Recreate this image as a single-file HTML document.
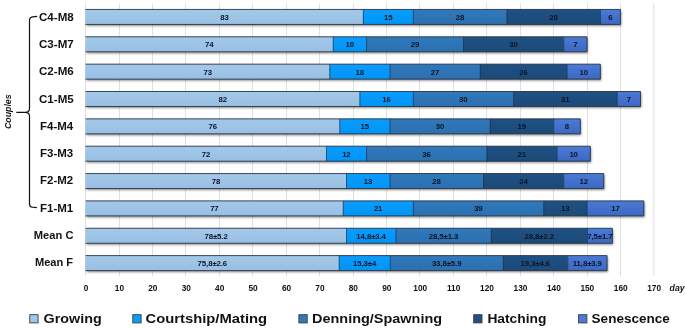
<!DOCTYPE html>
<html><head><meta charset="utf-8"><title>chart</title>
<style>
html,body{margin:0;padding:0;background:#fff;}
svg text{font-family:"Liberation Sans",sans-serif;font-weight:bold;fill:#111;}
.dl{font-size:7.8px;letter-spacing:-0.1px;text-anchor:middle;fill:#0c1424;}
.cat{font-size:11.2px;text-anchor:end;}
.ax{font-size:8.3px;text-anchor:middle;}
.day{font-size:8.7px;font-style:italic;}
.cp{font-size:9.4px;font-style:italic;text-anchor:middle;}
.lg{font-size:13.6px;}
</style></head><body>
<svg width="685" height="328" viewBox="0 0 685 328" style="display:block;will-change:transform;opacity:0.999">
<defs>
<linearGradient id="g0" x1="0" y1="0" x2="0" y2="1"><stop offset="0" stop-color="#a3c8ea"/><stop offset="1" stop-color="#98bfe3"/></linearGradient>
<linearGradient id="g1" x1="0" y1="0" x2="0" y2="1"><stop offset="0" stop-color="#0a9dff"/><stop offset="1" stop-color="#0094f5"/></linearGradient>
<linearGradient id="g2" x1="0" y1="0" x2="0" y2="1"><stop offset="0" stop-color="#3179bb"/><stop offset="1" stop-color="#2b70b0"/></linearGradient>
<linearGradient id="g3" x1="0" y1="0" x2="0" y2="1"><stop offset="0" stop-color="#1f5184"/><stop offset="1" stop-color="#1c4a78"/></linearGradient>
<linearGradient id="g4" x1="0" y1="0" x2="0" y2="1"><stop offset="0" stop-color="#4a7bd6"/><stop offset="1" stop-color="#3b68c2"/></linearGradient>
<filter id="sh" x="-5%" y="-30%" width="110%" height="180%"><feGaussianBlur stdDeviation="0.9"/></filter>
</defs>
<rect width="685" height="328" fill="#fff"/>
<line x1="85.50" y1="3.2" x2="85.50" y2="276" stroke="#e0e0e0" stroke-width="1"/>
<line x1="119.50" y1="3.2" x2="119.50" y2="276" stroke="#e0e0e0" stroke-width="1"/>
<line x1="152.50" y1="3.2" x2="152.50" y2="276" stroke="#e0e0e0" stroke-width="1"/>
<line x1="185.50" y1="3.2" x2="185.50" y2="276" stroke="#e0e0e0" stroke-width="1"/>
<line x1="219.50" y1="3.2" x2="219.50" y2="276" stroke="#e0e0e0" stroke-width="1"/>
<line x1="252.50" y1="3.2" x2="252.50" y2="276" stroke="#e0e0e0" stroke-width="1"/>
<line x1="286.50" y1="3.2" x2="286.50" y2="276" stroke="#e0e0e0" stroke-width="1"/>
<line x1="319.50" y1="3.2" x2="319.50" y2="276" stroke="#e0e0e0" stroke-width="1"/>
<line x1="353.50" y1="3.2" x2="353.50" y2="276" stroke="#e0e0e0" stroke-width="1"/>
<line x1="386.50" y1="3.2" x2="386.50" y2="276" stroke="#e0e0e0" stroke-width="1"/>
<line x1="419.50" y1="3.2" x2="419.50" y2="276" stroke="#e0e0e0" stroke-width="1"/>
<line x1="453.50" y1="3.2" x2="453.50" y2="276" stroke="#e0e0e0" stroke-width="1"/>
<line x1="486.50" y1="3.2" x2="486.50" y2="276" stroke="#e0e0e0" stroke-width="1"/>
<line x1="520.50" y1="3.2" x2="520.50" y2="276" stroke="#e0e0e0" stroke-width="1"/>
<line x1="553.50" y1="3.2" x2="553.50" y2="276" stroke="#e0e0e0" stroke-width="1"/>
<line x1="587.50" y1="3.2" x2="587.50" y2="276" stroke="#e0e0e0" stroke-width="1"/>
<line x1="620.50" y1="3.2" x2="620.50" y2="276" stroke="#e0e0e0" stroke-width="1"/>
<line x1="653.80" y1="3.2" x2="653.80" y2="276" stroke="#f0f0f0" stroke-width="2.4"/>
<rect x="86.60" y="10.95" width="534.72" height="15.00" fill="#1a1410" opacity="0.5" filter="url(#sh)"/>
<rect x="85.70" y="9.45" width="277.39" height="15.00" fill="url(#g0)"/>
<rect x="363.09" y="9.45" width="50.13" height="15.00" fill="url(#g1)"/>
<rect x="413.22" y="9.45" width="93.58" height="15.00" fill="url(#g2)"/>
<rect x="506.79" y="9.45" width="93.58" height="15.00" fill="url(#g3)"/>
<rect x="600.37" y="9.45" width="20.05" height="15.00" fill="url(#g4)"/>
<path d="M85.50 9.45 H620.42 V24.45 H85.50" fill="none" stroke="#26344a" stroke-width="0.9"/>
<path d="M363.24 9.45 V24.45 M413.37 9.45 V24.45 M506.94 9.45 V24.45 M600.52 9.45 V24.45" fill="none" stroke="#14233a" stroke-width="0.6"/>
<text x="224.39" y="19.85" class="dl">83</text>
<text x="388.15" y="19.85" class="dl">15</text>
<text x="460.00" y="19.85" class="dl">28</text>
<text x="553.58" y="19.85" class="dl">28</text>
<text x="610.39" y="19.85" class="dl">6</text>
<text x="73.7" y="20.70" class="cat" textLength="34.7" lengthAdjust="spacingAndGlyphs">C4-M8</text>
<rect x="86.60" y="38.30" width="501.30" height="15.00" fill="#1a1410" opacity="0.5" filter="url(#sh)"/>
<rect x="85.70" y="36.80" width="247.31" height="15.00" fill="url(#g0)"/>
<rect x="333.01" y="36.80" width="33.42" height="15.00" fill="url(#g1)"/>
<rect x="366.43" y="36.80" width="96.92" height="15.00" fill="url(#g2)"/>
<rect x="463.35" y="36.80" width="100.26" height="15.00" fill="url(#g3)"/>
<rect x="563.61" y="36.80" width="23.39" height="15.00" fill="url(#g4)"/>
<path d="M85.50 36.80 H587.00 V51.80 H85.50" fill="none" stroke="#26344a" stroke-width="0.9"/>
<path d="M333.16 36.80 V51.80 M366.58 36.80 V51.80 M463.50 36.80 V51.80 M563.76 36.80 V51.80" fill="none" stroke="#14233a" stroke-width="0.6"/>
<text x="209.35" y="47.20" class="dl">74</text>
<text x="349.72" y="47.20" class="dl">10</text>
<text x="414.89" y="47.20" class="dl">29</text>
<text x="513.48" y="47.20" class="dl">30</text>
<text x="575.30" y="47.20" class="dl">7</text>
<text x="73.7" y="47.97" class="cat" textLength="34.7" lengthAdjust="spacingAndGlyphs">C3-M7</text>
<rect x="86.60" y="65.65" width="514.67" height="15.00" fill="#1a1410" opacity="0.5" filter="url(#sh)"/>
<rect x="85.70" y="64.15" width="243.97" height="15.00" fill="url(#g0)"/>
<rect x="329.67" y="64.15" width="60.16" height="15.00" fill="url(#g1)"/>
<rect x="389.82" y="64.15" width="90.23" height="15.00" fill="url(#g2)"/>
<rect x="480.06" y="64.15" width="86.89" height="15.00" fill="url(#g3)"/>
<rect x="566.95" y="64.15" width="33.42" height="15.00" fill="url(#g4)"/>
<path d="M85.50 64.15 H600.37 V79.15 H85.50" fill="none" stroke="#26344a" stroke-width="0.9"/>
<path d="M329.82 64.15 V79.15 M389.97 64.15 V79.15 M480.21 64.15 V79.15 M567.10 64.15 V79.15" fill="none" stroke="#14233a" stroke-width="0.6"/>
<text x="207.68" y="74.55" class="dl">73</text>
<text x="359.74" y="74.55" class="dl">18</text>
<text x="434.94" y="74.55" class="dl">27</text>
<text x="523.50" y="74.55" class="dl">26</text>
<text x="583.66" y="74.55" class="dl">10</text>
<text x="73.7" y="75.24" class="cat" textLength="34.7" lengthAdjust="spacingAndGlyphs">C2-M6</text>
<rect x="86.60" y="93.00" width="554.77" height="15.00" fill="#1a1410" opacity="0.5" filter="url(#sh)"/>
<rect x="85.70" y="91.50" width="274.04" height="15.00" fill="url(#g0)"/>
<rect x="359.74" y="91.50" width="53.47" height="15.00" fill="url(#g1)"/>
<rect x="413.22" y="91.50" width="100.26" height="15.00" fill="url(#g2)"/>
<rect x="513.48" y="91.50" width="103.60" height="15.00" fill="url(#g3)"/>
<rect x="617.08" y="91.50" width="23.39" height="15.00" fill="url(#g4)"/>
<path d="M85.50 91.50 H640.47 V106.50 H85.50" fill="none" stroke="#26344a" stroke-width="0.9"/>
<path d="M359.89 91.50 V106.50 M413.37 91.50 V106.50 M513.63 91.50 V106.50 M617.23 91.50 V106.50" fill="none" stroke="#14233a" stroke-width="0.6"/>
<text x="222.72" y="101.90" class="dl">82</text>
<text x="386.48" y="101.90" class="dl">16</text>
<text x="463.35" y="101.90" class="dl">30</text>
<text x="565.28" y="101.90" class="dl">31</text>
<text x="628.78" y="101.90" class="dl">7</text>
<text x="73.7" y="102.51" class="cat" textLength="34.7" lengthAdjust="spacingAndGlyphs">C1-M5</text>
<rect x="86.60" y="120.35" width="494.62" height="15.00" fill="#1a1410" opacity="0.5" filter="url(#sh)"/>
<rect x="85.70" y="118.85" width="253.99" height="15.00" fill="url(#g0)"/>
<rect x="339.69" y="118.85" width="50.13" height="15.00" fill="url(#g1)"/>
<rect x="389.82" y="118.85" width="100.26" height="15.00" fill="url(#g2)"/>
<rect x="490.08" y="118.85" width="63.50" height="15.00" fill="url(#g3)"/>
<rect x="553.58" y="118.85" width="26.74" height="15.00" fill="url(#g4)"/>
<path d="M85.50 118.85 H580.32 V133.85 H85.50" fill="none" stroke="#26344a" stroke-width="0.9"/>
<path d="M339.84 118.85 V133.85 M389.97 118.85 V133.85 M490.23 118.85 V133.85 M553.73 118.85 V133.85" fill="none" stroke="#14233a" stroke-width="0.6"/>
<text x="212.70" y="129.25" class="dl">76</text>
<text x="364.76" y="129.25" class="dl">15</text>
<text x="439.95" y="129.25" class="dl">30</text>
<text x="521.83" y="129.25" class="dl">19</text>
<text x="566.95" y="129.25" class="dl">8</text>
<text x="73.2" y="129.78" class="cat" textLength="33.2" lengthAdjust="spacingAndGlyphs">F4-M4</text>
<rect x="86.60" y="147.70" width="504.64" height="15.00" fill="#1a1410" opacity="0.5" filter="url(#sh)"/>
<rect x="85.70" y="146.20" width="240.62" height="15.00" fill="url(#g0)"/>
<rect x="326.32" y="146.20" width="40.10" height="15.00" fill="url(#g1)"/>
<rect x="366.43" y="146.20" width="120.31" height="15.00" fill="url(#g2)"/>
<rect x="486.74" y="146.20" width="70.18" height="15.00" fill="url(#g3)"/>
<rect x="556.92" y="146.20" width="33.42" height="15.00" fill="url(#g4)"/>
<path d="M85.50 146.20 H590.34 V161.20 H85.50" fill="none" stroke="#26344a" stroke-width="0.9"/>
<path d="M326.47 146.20 V161.20 M366.58 146.20 V161.20 M486.89 146.20 V161.20 M557.07 146.20 V161.20" fill="none" stroke="#14233a" stroke-width="0.6"/>
<text x="206.01" y="156.60" class="dl">72</text>
<text x="346.38" y="156.60" class="dl">12</text>
<text x="426.58" y="156.60" class="dl">36</text>
<text x="521.83" y="156.60" class="dl">21</text>
<text x="573.63" y="156.60" class="dl">10</text>
<text x="73.2" y="157.05" class="cat" textLength="33.2" lengthAdjust="spacingAndGlyphs">F3-M3</text>
<rect x="86.60" y="175.05" width="518.01" height="15.00" fill="#1a1410" opacity="0.5" filter="url(#sh)"/>
<rect x="85.70" y="173.55" width="260.68" height="15.00" fill="url(#g0)"/>
<rect x="346.38" y="173.55" width="43.45" height="15.00" fill="url(#g1)"/>
<rect x="389.82" y="173.55" width="93.58" height="15.00" fill="url(#g2)"/>
<rect x="483.40" y="173.55" width="80.21" height="15.00" fill="url(#g3)"/>
<rect x="563.61" y="173.55" width="40.10" height="15.00" fill="url(#g4)"/>
<path d="M85.50 173.55 H603.71 V188.55 H85.50" fill="none" stroke="#26344a" stroke-width="0.9"/>
<path d="M346.53 173.55 V188.55 M389.97 173.55 V188.55 M483.55 173.55 V188.55 M563.76 173.55 V188.55" fill="none" stroke="#14233a" stroke-width="0.6"/>
<text x="216.04" y="183.95" class="dl">78</text>
<text x="368.10" y="183.95" class="dl">13</text>
<text x="436.61" y="183.95" class="dl">28</text>
<text x="523.50" y="183.95" class="dl">24</text>
<text x="583.66" y="183.95" class="dl">12</text>
<text x="73.2" y="184.32" class="cat" textLength="33.2" lengthAdjust="spacingAndGlyphs">F2-M2</text>
<rect x="86.60" y="202.40" width="558.11" height="15.00" fill="#1a1410" opacity="0.5" filter="url(#sh)"/>
<rect x="85.70" y="200.90" width="257.33" height="15.00" fill="url(#g0)"/>
<rect x="343.03" y="200.90" width="70.18" height="15.00" fill="url(#g1)"/>
<rect x="413.22" y="200.90" width="130.34" height="15.00" fill="url(#g2)"/>
<rect x="543.55" y="200.90" width="43.45" height="15.00" fill="url(#g3)"/>
<rect x="587.00" y="200.90" width="56.81" height="15.00" fill="url(#g4)"/>
<path d="M85.50 200.90 H643.81 V215.90 H85.50" fill="none" stroke="#26344a" stroke-width="0.9"/>
<path d="M343.18 200.90 V215.90 M413.37 200.90 V215.90 M543.70 200.90 V215.90 M587.15 200.90 V215.90" fill="none" stroke="#14233a" stroke-width="0.6"/>
<text x="214.37" y="211.30" class="dl">77</text>
<text x="378.12" y="211.30" class="dl">21</text>
<text x="478.38" y="211.30" class="dl">39</text>
<text x="565.28" y="211.30" class="dl">13</text>
<text x="615.41" y="211.30" class="dl">17</text>
<text x="73.2" y="211.59" class="cat" textLength="33.2" lengthAdjust="spacingAndGlyphs">F1-M1</text>
<rect x="86.60" y="229.75" width="526.70" height="15.00" fill="#1a1410" opacity="0.5" filter="url(#sh)"/>
<rect x="85.70" y="228.25" width="260.68" height="15.00" fill="url(#g0)"/>
<rect x="346.38" y="228.25" width="49.46" height="15.00" fill="url(#g1)"/>
<rect x="395.84" y="228.25" width="95.25" height="15.00" fill="url(#g2)"/>
<rect x="491.08" y="228.25" width="96.25" height="15.00" fill="url(#g3)"/>
<rect x="587.33" y="228.25" width="25.07" height="15.00" fill="url(#g4)"/>
<path d="M85.50 228.25 H612.40 V243.25 H85.50" fill="none" stroke="#26344a" stroke-width="0.9"/>
<path d="M346.53 228.25 V243.25 M395.99 228.25 V243.25 M491.23 228.25 V243.25 M587.48 228.25 V243.25" fill="none" stroke="#14233a" stroke-width="0.6"/>
<text x="216.04" y="238.65" class="dl">78±5.2</text>
<text x="371.11" y="238.65" class="dl">14,8±3.4</text>
<text x="443.46" y="238.65" class="dl">28,5±1.3</text>
<text x="539.21" y="238.65" class="dl">28,8±2.2</text>
<text x="599.87" y="238.65" class="dl">7,5±1.7</text>
<text x="73.45" y="238.86" class="cat" textLength="39.6" lengthAdjust="spacingAndGlyphs">Mean C</text>
<rect x="86.60" y="257.10" width="521.35" height="15.00" fill="#1a1410" opacity="0.5" filter="url(#sh)"/>
<rect x="85.70" y="255.60" width="253.32" height="15.00" fill="url(#g0)"/>
<rect x="339.02" y="255.60" width="51.13" height="15.00" fill="url(#g1)"/>
<rect x="390.16" y="255.60" width="112.96" height="15.00" fill="url(#g2)"/>
<rect x="503.12" y="255.60" width="64.50" height="15.00" fill="url(#g3)"/>
<rect x="567.62" y="255.60" width="39.44" height="15.00" fill="url(#g4)"/>
<path d="M85.50 255.60 H607.05 V270.60 H85.50" fill="none" stroke="#26344a" stroke-width="0.9"/>
<path d="M339.17 255.60 V270.60 M390.31 255.60 V270.60 M503.27 255.60 V270.60 M567.77 255.60 V270.60" fill="none" stroke="#14233a" stroke-width="0.6"/>
<text x="212.36" y="266.00" class="dl">75,8±2.6</text>
<text x="364.59" y="266.00" class="dl">15,3±4</text>
<text x="446.64" y="266.00" class="dl">33,8±5.9</text>
<text x="535.37" y="266.00" class="dl">19,3±4.6</text>
<text x="587.33" y="266.00" class="dl">11,8±3.9</text>
<text x="73.15" y="266.13" class="cat" textLength="38.2" lengthAdjust="spacingAndGlyphs">Mean F</text>
<text x="86.00" y="291.1" class="ax">0</text>
<text x="119.42" y="291.1" class="ax">10</text>
<text x="152.84" y="291.1" class="ax">20</text>
<text x="186.26" y="291.1" class="ax">30</text>
<text x="219.68" y="291.1" class="ax">40</text>
<text x="253.10" y="291.1" class="ax">50</text>
<text x="286.52" y="291.1" class="ax">60</text>
<text x="319.94" y="291.1" class="ax">70</text>
<text x="353.36" y="291.1" class="ax">80</text>
<text x="386.78" y="291.1" class="ax">90</text>
<text x="420.20" y="291.1" class="ax">100</text>
<text x="453.62" y="291.1" class="ax">110</text>
<text x="487.04" y="291.1" class="ax">120</text>
<text x="520.46" y="291.1" class="ax">130</text>
<text x="553.88" y="291.1" class="ax">140</text>
<text x="587.30" y="291.1" class="ax">150</text>
<text x="620.72" y="291.1" class="ax">160</text>
<text x="654.14" y="291.1" class="ax">170</text>
<text x="669.6" y="291.1" class="day">day</text>
<text transform="translate(10.9,111.7) rotate(-90)" class="cp" textLength="34.6" lengthAdjust="spacingAndGlyphs">Couples</text>
<path d="M37.2 16.3 L32.6 16.8 Q29.5 17.2 29.5 20.2 V108.6 Q29.5 112.3 25.5 112.3 H16.8 H25.5 Q29.5 112.3 29.5 116 V203.9 Q29.5 206.9 32.6 207.25 L36.9 207.7" fill="none" stroke="#111" stroke-width="1.2" stroke-linejoin="round"/>
<rect x="29.80" y="314.7" width="8.3" height="8.2" fill="#a3c8ea" stroke="#3a3a3a" stroke-width="0.9"/>
<text x="43.60" y="323.4" class="lg" textLength="58.10" lengthAdjust="spacingAndGlyphs">Growing</text>
<rect x="132.80" y="314.7" width="8.3" height="8.2" fill="#0a9dff" stroke="#3a3a3a" stroke-width="0.9"/>
<text x="145.50" y="323.4" class="lg" textLength="121.60" lengthAdjust="spacingAndGlyphs">Courtship/Mating</text>
<rect x="298.90" y="314.7" width="8.3" height="8.2" fill="#3179bb" stroke="#3a3a3a" stroke-width="0.9"/>
<text x="312.00" y="323.4" class="lg" textLength="130.10" lengthAdjust="spacingAndGlyphs">Denning/Spawning</text>
<rect x="473.70" y="314.7" width="8.3" height="8.2" fill="#1f5184" stroke="#3a3a3a" stroke-width="0.9"/>
<text x="487.40" y="323.4" class="lg" textLength="59.00" lengthAdjust="spacingAndGlyphs">Hatching</text>
<rect x="578.60" y="314.7" width="8.3" height="8.2" fill="#4a7bd6" stroke="#3a3a3a" stroke-width="0.9"/>
<text x="591.60" y="323.4" class="lg" textLength="78.20" lengthAdjust="spacingAndGlyphs">Senescence</text>
</svg>
</body></html>
